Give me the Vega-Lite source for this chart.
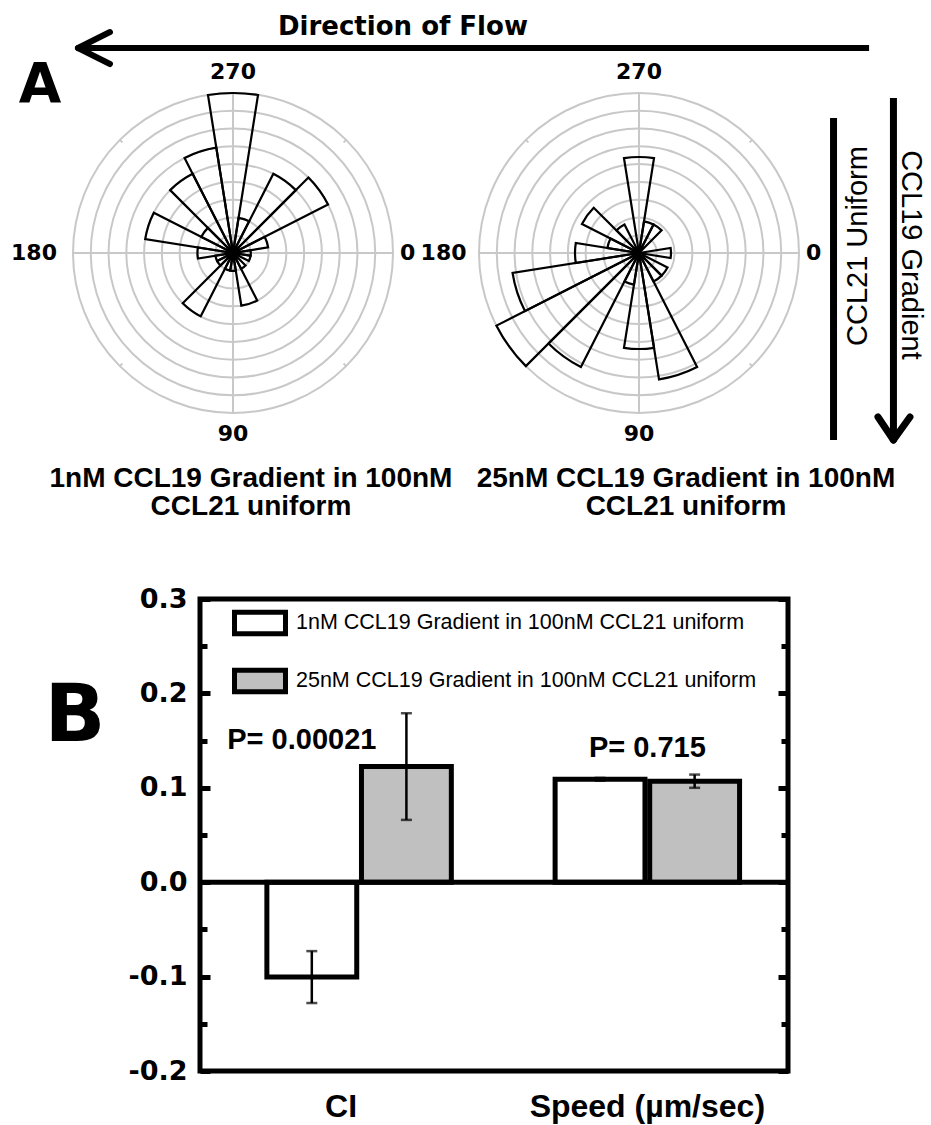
{
  "$schema": "https://vega.github.io/schema/vega-lite/v6.json",
  "background": "white",
  "padding": {"left": 11, "top": 14, "right": 0, "bottom": 0},
  "bounds": "flush",
  "center": true,
  "spacing": 186,
  "resolve": {"legend": {"fill": "independent"}},
  "config": {"view": {"stroke": null}},
  "datasets": {
    "rings": [{"r": 1}, {"r": 2}, {"r": 3}, {"r": 4}, {"r": 5}, {"r": 6}, {"r": 7}, {"r": 8}, {"r": 9}],
    "spokes": [{"angle": 0}, {"angle": 90}, {"angle": 180}, {"angle": 270}],
    "minorTicks": [{"angle": 45}, {"angle": 135}, {"angle": 225}, {"angle": 315}],
    "angleLabels": [{"angle": 270, "label": "270"}, {"angle": 0, "label": "0"}, {"angle": 90, "label": "90"}, {"angle": 180, "label": "180"}],
    "rose1": [
      {"a0": -9, "a1": 9, "n": 1}, {"a0": 9, "a1": 27, "n": 1}, {"a0": 27, "a1": 45, "n": 0}, {"a0": 45, "a1": 63, "n": 1},
      {"a0": 63, "a1": 81, "n": 3}, {"a0": 81, "a1": 99, "n": 1}, {"a0": 99, "a1": 117, "n": 1}, {"a0": 117, "a1": 135, "n": 4},
      {"a0": 135, "a1": 153, "n": 1}, {"a0": 153, "a1": 171, "n": 1}, {"a0": 171, "a1": 189, "n": 2}, {"a0": 189, "a1": 207, "n": 5},
      {"a0": 207, "a1": 225, "n": 2}, {"a0": 225, "a1": 243, "n": 5}, {"a0": 243, "a1": 261, "n": 6}, {"a0": 261, "a1": 279, "n": 9},
      {"a0": 279, "a1": 297, "n": 2}, {"a0": 297, "a1": 315, "n": 5}, {"a0": 315, "a1": 333, "n": 6}, {"a0": 333, "a1": 351, "n": 2}
    ],
    "rose2": [
      {"a0": -9, "a1": 9, "n": 1}, {"a0": 9, "a1": 27, "n": 0}, {"a0": 27, "a1": 45, "n": 1}, {"a0": 45, "a1": 63, "n": 1},
      {"a0": 63, "a1": 81, "n": 4}, {"a0": 81, "a1": 99, "n": 3}, {"a0": 99, "a1": 117, "n": 1}, {"a0": 117, "a1": 135, "n": 4},
      {"a0": 135, "a1": 153, "n": 5}, {"a0": 153, "a1": 171, "n": 4}, {"a0": 171, "a1": 189, "n": 2}, {"a0": 189, "a1": 207, "n": 1},
      {"a0": 207, "a1": 225, "n": 2}, {"a0": 225, "a1": 243, "n": 1}, {"a0": 243, "a1": 261, "n": 0}, {"a0": 261, "a1": 279, "n": 3},
      {"a0": 279, "a1": 297, "n": 1}, {"a0": 297, "a1": 315, "n": 1}, {"a0": 315, "a1": 333, "n": 0}, {"a0": 333, "a1": 351, "n": 0}
    ],
    "bars": [
      {"metric": "CI", "group": "1nM CCL19 Gradient in 100nM CCL21 uniform", "mean": -0.1005, "err": 0.0275},
      {"metric": "CI", "group": "25nM CCL19 Gradient in 100nM CCL21 uniform", "mean": 0.1225, "err": 0.0565},
      {"metric": "Speed (µm/sec)", "group": "1nM CCL19 Gradient in 100nM CCL21 uniform", "mean": 0.109, "err": 0.0015},
      {"metric": "Speed (µm/sec)", "group": "25nM CCL19 Gradient in 100nM CCL21 uniform", "mean": 0.107, "err": 0.007}
    ]
  },
  "vconcat": [
    {
      "width": 842,
      "height": 320,
      "resolve": {"scale": {"radius": "independent"}},
      "layer": [
        {
          "data": {"name": "rings"},
          "mark": {"type": "arc", "filled": false, "stroke": "#c8c8c8", "strokeWidth": 2},
          "encoding": {
            "x": {"datum": 0, "type": "quantitative", "scale": {"domain": [-9, 38.3625], "nice": false, "zero": false}, "axis": null},
            "y": {"datum": 0, "type": "quantitative", "scale": {"domain": [-9, 9], "nice": false, "zero": false}, "axis": null},
            "theta": {"datum": 0, "type": "quantitative", "stack": null, "scale": {"domain": [0, 360], "range": [1.5707963, 7.8539816], "zero": false, "nice": false}},
            "theta2": {"datum": 360},
            "radius": {"field": "r", "type": "quantitative", "stack": null, "scale": {"type": "linear", "domain": [0, 9], "range": [0, 160], "nice": false, "zero": true}}
          }
        },
        {
          "data": {"name": "rings"},
          "mark": {"type": "arc", "filled": false, "stroke": "#c8c8c8", "strokeWidth": 2},
          "encoding": {
            "x": {"datum": 22.8375, "type": "quantitative", "scale": {"domain": [-9, 38.3625], "nice": false, "zero": false}, "axis": null},
            "y": {"datum": 0, "type": "quantitative", "scale": {"domain": [-9, 9], "nice": false, "zero": false}, "axis": null},
            "theta": {"datum": 0, "type": "quantitative", "stack": null, "scale": {"domain": [0, 360], "range": [1.5707963, 7.8539816], "zero": false, "nice": false}},
            "theta2": {"datum": 360},
            "radius": {"field": "r", "type": "quantitative", "stack": null, "scale": {"type": "linear", "domain": [0, 9], "range": [0, 160], "nice": false, "zero": true}}
          }
        },
        {
          "data": {"name": "spokes"},
          "mark": {"type": "arc", "filled": false, "stroke": "#c8c8c8", "strokeWidth": 2},
          "encoding": {
            "x": {"datum": 0, "type": "quantitative", "scale": {"domain": [-9, 38.3625], "nice": false, "zero": false}, "axis": null},
            "y": {"datum": 0, "type": "quantitative", "scale": {"domain": [-9, 9], "nice": false, "zero": false}, "axis": null},
            "theta": {"field": "angle", "type": "quantitative", "stack": null, "scale": {"domain": [0, 360], "range": [1.5707963, 7.8539816], "zero": false, "nice": false}},
            "theta2": {"field": "angle"},
            "radius": {"datum": 9, "type": "quantitative", "stack": null, "scale": {"type": "linear", "domain": [0, 9], "range": [0, 160], "nice": false, "zero": true}}
          }
        },
        {
          "data": {"name": "spokes"},
          "mark": {"type": "arc", "filled": false, "stroke": "#c8c8c8", "strokeWidth": 2},
          "encoding": {
            "x": {"datum": 22.8375, "type": "quantitative", "scale": {"domain": [-9, 38.3625], "nice": false, "zero": false}, "axis": null},
            "y": {"datum": 0, "type": "quantitative", "scale": {"domain": [-9, 9], "nice": false, "zero": false}, "axis": null},
            "theta": {"field": "angle", "type": "quantitative", "stack": null, "scale": {"domain": [0, 360], "range": [1.5707963, 7.8539816], "zero": false, "nice": false}},
            "theta2": {"field": "angle"},
            "radius": {"datum": 9, "type": "quantitative", "stack": null, "scale": {"type": "linear", "domain": [0, 9], "range": [0, 160], "nice": false, "zero": true}}
          }
        },
        {
          "data": {"name": "minorTicks"},
          "mark": {"type": "arc", "filled": false, "stroke": "#c8c8c8", "strokeWidth": 2},
          "encoding": {
            "x": {"datum": 0, "type": "quantitative", "scale": {"domain": [-9, 38.3625], "nice": false, "zero": false}, "axis": null},
            "y": {"datum": 0, "type": "quantitative", "scale": {"domain": [-9, 9], "nice": false, "zero": false}, "axis": null},
            "theta": {"field": "angle", "type": "quantitative", "stack": null, "scale": {"domain": [0, 360], "range": [1.5707963, 7.8539816], "zero": false, "nice": false}},
            "theta2": {"field": "angle"},
            "radius": {"datum": 9, "type": "quantitative", "stack": null, "scale": {"type": "linear", "domain": [0, 9], "range": [0, 160], "nice": false, "zero": true}},
            "radius2": {"datum": 8.8}
          }
        },
        {
          "data": {"name": "minorTicks"},
          "mark": {"type": "arc", "filled": false, "stroke": "#c8c8c8", "strokeWidth": 2},
          "encoding": {
            "x": {"datum": 22.8375, "type": "quantitative", "scale": {"domain": [-9, 38.3625], "nice": false, "zero": false}, "axis": null},
            "y": {"datum": 0, "type": "quantitative", "scale": {"domain": [-9, 9], "nice": false, "zero": false}, "axis": null},
            "theta": {"field": "angle", "type": "quantitative", "stack": null, "scale": {"domain": [0, 360], "range": [1.5707963, 7.8539816], "zero": false, "nice": false}},
            "theta2": {"field": "angle"},
            "radius": {"datum": 9, "type": "quantitative", "stack": null, "scale": {"type": "linear", "domain": [0, 9], "range": [0, 160], "nice": false, "zero": true}},
            "radius2": {"datum": 8.8}
          }
        },
        {
          "data": {"name": "rose1"},
          "mark": {"type": "arc", "filled": false, "stroke": "black", "strokeWidth": 2.2},
          "encoding": {
            "x": {"datum": 0, "type": "quantitative", "scale": {"domain": [-9, 38.3625], "nice": false, "zero": false}, "axis": null},
            "y": {"datum": 0, "type": "quantitative", "scale": {"domain": [-9, 9], "nice": false, "zero": false}, "axis": null},
            "theta": {"field": "a0", "type": "quantitative", "stack": null, "scale": {"domain": [0, 360], "range": [1.5707963, 7.8539816], "zero": false, "nice": false}},
            "theta2": {"field": "a1"},
            "radius": {"field": "n", "type": "quantitative", "stack": null, "scale": {"type": "linear", "domain": [0, 9], "range": [0, 160], "nice": false, "zero": true}}
          }
        },
        {
          "data": {"name": "rose2"},
          "mark": {"type": "arc", "filled": false, "stroke": "black", "strokeWidth": 2.2},
          "encoding": {
            "x": {"datum": 22.8375, "type": "quantitative", "scale": {"domain": [-9, 38.3625], "nice": false, "zero": false}, "axis": null},
            "y": {"datum": 0, "type": "quantitative", "scale": {"domain": [-9, 9], "nice": false, "zero": false}, "axis": null},
            "theta": {"field": "a0", "type": "quantitative", "stack": null, "scale": {"domain": [0, 360], "range": [1.5707963, 7.8539816], "zero": false, "nice": false}},
            "theta2": {"field": "a1"},
            "radius": {"field": "n", "type": "quantitative", "stack": null, "scale": {"type": "linear", "domain": [0, 5], "range": [0, 160], "nice": false, "zero": true}}
          }
        },
        {
          "data": {"name": "angleLabels"},
          "transform": [{"filter": "datum.angle == 90 || datum.angle == 270"}],
          "mark": {"type": "text", "font": "DejaVu Sans", "fontWeight": "bold", "fontSize": 22, "align": "center", "baseline": "middle", "color": "black"},
          "encoding": {
            "x": {"datum": 0, "type": "quantitative", "scale": {"domain": [-9, 38.3625], "nice": false, "zero": false}, "axis": null},
            "y": {"datum": 0, "type": "quantitative", "scale": {"domain": [-9, 9], "nice": false, "zero": false}, "axis": null},
            "theta": {"field": "angle", "type": "quantitative", "stack": null, "scale": {"domain": [0, 360], "range": [1.5707963, 7.8539816], "zero": false, "nice": false}},
            "radius": {"datum": 10.2, "type": "quantitative", "stack": null, "scale": {"type": "linear", "domain": [0, 9], "range": [0, 160], "nice": false, "zero": true}},
            "text": {"field": "label"}
          }
        },
        {
          "data": {"name": "angleLabels"},
          "transform": [{"filter": "datum.angle == 0"}],
          "mark": {"type": "text", "font": "DejaVu Sans", "fontWeight": "bold", "fontSize": 22, "align": "left", "baseline": "middle", "color": "black"},
          "encoding": {
            "x": {"datum": 0, "type": "quantitative", "scale": {"domain": [-9, 38.3625], "nice": false, "zero": false}, "axis": null},
            "y": {"datum": 0, "type": "quantitative", "scale": {"domain": [-9, 9], "nice": false, "zero": false}, "axis": null},
            "theta": {"field": "angle", "type": "quantitative", "stack": null, "scale": {"domain": [0, 360], "range": [1.5707963, 7.8539816], "zero": false, "nice": false}},
            "radius": {"datum": 9.4, "type": "quantitative", "stack": null, "scale": {"type": "linear", "domain": [0, 9], "range": [0, 160], "nice": false, "zero": true}},
            "text": {"field": "label"}
          }
        },
        {
          "data": {"name": "angleLabels"},
          "transform": [{"filter": "datum.angle == 180"}],
          "mark": {"type": "text", "font": "DejaVu Sans", "fontWeight": "bold", "fontSize": 22, "align": "right", "baseline": "middle", "color": "black"},
          "encoding": {
            "x": {"datum": 0, "type": "quantitative", "scale": {"domain": [-9, 38.3625], "nice": false, "zero": false}, "axis": null},
            "y": {"datum": 0, "type": "quantitative", "scale": {"domain": [-9, 9], "nice": false, "zero": false}, "axis": null},
            "theta": {"field": "angle", "type": "quantitative", "stack": null, "scale": {"domain": [0, 360], "range": [1.5707963, 7.8539816], "zero": false, "nice": false}},
            "radius": {"datum": 9.9, "type": "quantitative", "stack": null, "scale": {"type": "linear", "domain": [0, 9], "range": [0, 160], "nice": false, "zero": true}},
            "text": {"field": "label"}
          }
        },
        {
          "data": {"name": "angleLabels"},
          "transform": [{"filter": "datum.angle == 90 || datum.angle == 270"}],
          "mark": {"type": "text", "font": "DejaVu Sans", "fontWeight": "bold", "fontSize": 22, "align": "center", "baseline": "middle", "color": "black"},
          "encoding": {
            "x": {"datum": 22.8375, "type": "quantitative", "scale": {"domain": [-9, 38.3625], "nice": false, "zero": false}, "axis": null},
            "y": {"datum": 0, "type": "quantitative", "scale": {"domain": [-9, 9], "nice": false, "zero": false}, "axis": null},
            "theta": {"field": "angle", "type": "quantitative", "stack": null, "scale": {"domain": [0, 360], "range": [1.5707963, 7.8539816], "zero": false, "nice": false}},
            "radius": {"datum": 10.2, "type": "quantitative", "stack": null, "scale": {"type": "linear", "domain": [0, 9], "range": [0, 160], "nice": false, "zero": true}},
            "text": {"field": "label"}
          }
        },
        {
          "data": {"name": "angleLabels"},
          "transform": [{"filter": "datum.angle == 0"}],
          "mark": {"type": "text", "font": "DejaVu Sans", "fontWeight": "bold", "fontSize": 22, "align": "left", "baseline": "middle", "color": "black"},
          "encoding": {
            "x": {"datum": 22.8375, "type": "quantitative", "scale": {"domain": [-9, 38.3625], "nice": false, "zero": false}, "axis": null},
            "y": {"datum": 0, "type": "quantitative", "scale": {"domain": [-9, 9], "nice": false, "zero": false}, "axis": null},
            "theta": {"field": "angle", "type": "quantitative", "stack": null, "scale": {"domain": [0, 360], "range": [1.5707963, 7.8539816], "zero": false, "nice": false}},
            "radius": {"datum": 9.4, "type": "quantitative", "stack": null, "scale": {"type": "linear", "domain": [0, 9], "range": [0, 160], "nice": false, "zero": true}},
            "text": {"field": "label"}
          }
        },
        {
          "data": {"name": "angleLabels"},
          "transform": [{"filter": "datum.angle == 180"}],
          "mark": {"type": "text", "font": "DejaVu Sans", "fontWeight": "bold", "fontSize": 22, "align": "right", "baseline": "middle", "color": "black"},
          "encoding": {
            "x": {"datum": 22.8375, "type": "quantitative", "scale": {"domain": [-9, 38.3625], "nice": false, "zero": false}, "axis": null},
            "y": {"datum": 0, "type": "quantitative", "scale": {"domain": [-9, 9], "nice": false, "zero": false}, "axis": null},
            "theta": {"field": "angle", "type": "quantitative", "stack": null, "scale": {"domain": [0, 360], "range": [1.5707963, 7.8539816], "zero": false, "nice": false}},
            "radius": {"datum": 9.7, "type": "quantitative", "stack": null, "scale": {"type": "linear", "domain": [0, 9], "range": [0, 160], "nice": false, "zero": true}},
            "text": {"field": "label"}
          }
        },
        {
          "data": {"values": [{}]},
          "mark": {"type": "text", "text": ["1nM CCL19 Gradient in 100nM", "CCL21 uniform"], "font": "Liberation Sans", "fontWeight": "bold", "fontSize": 28, "lineHeight": 28, "color": "black", "align": "center", "baseline": "top"},
          "encoding": {
            "x": {"datum": 1.01, "type": "quantitative", "scale": {"domain": [-9, 38.3625], "nice": false, "zero": false}, "axis": null},
            "y": {"datum": -11.925, "type": "quantitative", "scale": {"domain": [-9, 9], "nice": false, "zero": false}, "axis": null}
          }
        },
        {
          "data": {"values": [{}]},
          "mark": {"type": "text", "text": ["25nM CCL19 Gradient in 100nM", "CCL21 uniform"], "font": "Liberation Sans", "fontWeight": "bold", "fontSize": 28, "lineHeight": 28, "color": "black", "align": "center", "baseline": "top"},
          "encoding": {
            "x": {"datum": 25.48, "type": "quantitative", "scale": {"domain": [-9, 38.3625], "nice": false, "zero": false}, "axis": null},
            "y": {"datum": -11.925, "type": "quantitative", "scale": {"domain": [-9, 9], "nice": false, "zero": false}, "axis": null}
          }
        },
        {
          "data": {"values": [{}]},
          "mark": {"type": "rule", "strokeWidth": 6, "color": "black"},
          "encoding": {
            "x": {"datum": -8.6, "type": "quantitative", "scale": {"domain": [-9, 38.3625], "nice": false, "zero": false}, "axis": null},
            "x2": {"datum": 35.78},
            "y": {"datum": 11.53, "type": "quantitative", "scale": {"domain": [-9, 9], "nice": false, "zero": false}, "axis": null}
          }
        },
        {
          "data": {"values": [{}]},
          "mark": {"type": "rule", "strokeWidth": 6, "color": "black", "strokeCap": "round"},
          "encoding": {
            "x": {"datum": -8.72, "type": "quantitative", "scale": {"domain": [-9, 38.3625], "nice": false, "zero": false}, "axis": null},
            "x2": {"datum": -6.92},
            "y": {"datum": 11.53, "type": "quantitative", "scale": {"domain": [-9, 9], "nice": false, "zero": false}, "axis": null},
            "y2": {"datum": 12.43}
          }
        },
        {
          "data": {"values": [{}]},
          "mark": {"type": "rule", "strokeWidth": 6, "color": "black", "strokeCap": "round"},
          "encoding": {
            "x": {"datum": -8.72, "type": "quantitative", "scale": {"domain": [-9, 38.3625], "nice": false, "zero": false}, "axis": null},
            "x2": {"datum": -6.92},
            "y": {"datum": 11.53, "type": "quantitative", "scale": {"domain": [-9, 9], "nice": false, "zero": false}, "axis": null},
            "y2": {"datum": 10.63}
          }
        },
        {
          "data": {"values": [{}]},
          "mark": {"type": "text", "text": "Direction of Flow", "font": "DejaVu Sans", "fontWeight": "bold", "fontSize": 26, "color": "black", "align": "center", "baseline": "middle"},
          "encoding": {
            "x": {"datum": 9.56, "type": "quantitative", "scale": {"domain": [-9, 38.3625], "nice": false, "zero": false}, "axis": null},
            "y": {"datum": 12.71, "type": "quantitative", "scale": {"domain": [-9, 9], "nice": false, "zero": false}, "axis": null}
          }
        },
        {
          "data": {"values": [{}]},
          "mark": {"type": "text", "text": "A", "font": "DejaVu Sans", "fontWeight": "bold", "fontSize": 55, "color": "black", "align": "center", "baseline": "middle"},
          "encoding": {
            "x": {"datum": -10.86, "type": "quantitative", "scale": {"domain": [-9, 38.3625], "nice": false, "zero": false}, "axis": null},
            "y": {"datum": 9.45, "type": "quantitative", "scale": {"domain": [-9, 9], "nice": false, "zero": false}, "axis": null}
          }
        },
        {
          "data": {"values": [{}]},
          "mark": {"type": "text", "text": "B", "font": "DejaVu Sans", "fontWeight": "bold", "fontSize": 80, "color": "black", "align": "center", "baseline": "middle"},
          "encoding": {
            "x": {"datum": -8.89, "type": "quantitative", "scale": {"domain": [-9, 38.3625], "nice": false, "zero": false}, "axis": null},
            "y": {"datum": -26.1, "type": "quantitative", "scale": {"domain": [-9, 9], "nice": false, "zero": false}, "axis": null}
          }
        },
        {
          "data": {"values": [{}]},
          "mark": {"type": "rule", "strokeWidth": 7, "color": "black"},
          "encoding": {
            "x": {"datum": 33.78, "type": "quantitative", "scale": {"domain": [-9, 38.3625], "nice": false, "zero": false}, "axis": null},
            "y": {"datum": 7.59, "type": "quantitative", "scale": {"domain": [-9, 9], "nice": false, "zero": false}, "axis": null},
            "y2": {"datum": -10.52}
          }
        },
        {
          "data": {"values": [{}]},
          "mark": {"type": "rule", "strokeWidth": 7, "color": "black"},
          "encoding": {
            "x": {"datum": 37.15, "type": "quantitative", "scale": {"domain": [-9, 38.3625], "nice": false, "zero": false}, "axis": null},
            "y": {"datum": 8.72, "type": "quantitative", "scale": {"domain": [-9, 9], "nice": false, "zero": false}, "axis": null},
            "y2": {"datum": -10.35}
          }
        },
        {
          "data": {"values": [{}]},
          "mark": {"type": "rule", "strokeWidth": 7, "color": "black", "strokeCap": "round"},
          "encoding": {
            "x": {"datum": 37.15, "type": "quantitative", "scale": {"domain": [-9, 38.3625], "nice": false, "zero": false}, "axis": null},
            "x2": {"datum": 36.28},
            "y": {"datum": -10.52, "type": "quantitative", "scale": {"domain": [-9, 9], "nice": false, "zero": false}, "axis": null},
            "y2": {"datum": -9.225}
          }
        },
        {
          "data": {"values": [{}]},
          "mark": {"type": "rule", "strokeWidth": 7, "color": "black", "strokeCap": "round"},
          "encoding": {
            "x": {"datum": 37.15, "type": "quantitative", "scale": {"domain": [-9, 38.3625], "nice": false, "zero": false}, "axis": null},
            "x2": {"datum": 38.08},
            "y": {"datum": -10.52, "type": "quantitative", "scale": {"domain": [-9, 9], "nice": false, "zero": false}, "axis": null},
            "y2": {"datum": -9.225}
          }
        },
        {
          "data": {"values": [{}]},
          "mark": {"type": "text", "text": "CCL21 Uniform", "font": "Liberation Sans", "fontSize": 29, "angle": 270, "color": "black", "align": "center", "baseline": "middle"},
          "encoding": {
            "x": {"datum": 35.16, "type": "quantitative", "scale": {"domain": [-9, 38.3625], "nice": false, "zero": false}, "axis": null},
            "y": {"datum": 0.39, "type": "quantitative", "scale": {"domain": [-9, 9], "nice": false, "zero": false}, "axis": null}
          }
        },
        {
          "data": {"values": [{}]},
          "mark": {"type": "text", "text": "CCL19 Gradient", "font": "Liberation Sans", "fontSize": 29, "angle": 90, "color": "black", "align": "center", "baseline": "middle"},
          "encoding": {
            "x": {"datum": 38.14, "type": "quantitative", "scale": {"domain": [-9, 38.3625], "nice": false, "zero": false}, "axis": null},
            "y": {"datum": -0.11, "type": "quantitative", "scale": {"domain": [-9, 9], "nice": false, "zero": false}, "axis": null}
          }
        }
      ]
    },
    {
      "width": 588,
      "height": 472,
      "view": {"stroke": "black", "strokeWidth": 5},
      "data": {"name": "bars"},
      "resolve": {"axis": {"y": "independent"}},
      "layer": [
        {
          "mark": {"type": "bar", "stroke": "black", "strokeWidth": 5},
          "encoding": {
            "x": {"field": "metric", "type": "nominal", "sort": ["CI", "Speed (µm/sec)"], "scale": {"paddingInner": 0.36, "paddingOuter": 0.2, "align": 0.58},
              "axis": {"orient": "bottom", "title": null, "domain": false, "ticks": false, "labelAngle": 0, "labelFont": "Liberation Sans", "labelFontWeight": "bold", "labelFontSize": 32, "labelColor": "black", "labelPadding": 20, "labelLimit": 0,
                "labelOffset": {"condition": {"test": "datum.value == 'CI'", "value": -18}, "value": 0}}},
            "xOffset": {"field": "group", "type": "nominal", "sort": ["1nM CCL19 Gradient in 100nM CCL21 uniform", "25nM CCL19 Gradient in 100nM CCL21 uniform"], "scale": {"paddingInner": 0.05, "paddingOuter": 0}},
            "y": {"field": "mean", "type": "quantitative", "scale": {"domain": [-0.2, 0.3], "nice": false, "zero": false},
              "axis": {"orient": "left", "title": null, "domain": false, "grid": false,
                "values": [-0.2, -0.15, -0.1, -0.05, 0, 0.05, 0.1, 0.15, 0.2, 0.25, 0.3],
                "labelExpr": "abs(datum.value * 10 - round(datum.value * 10)) < 0.001 ? (datum.value < -0.001 ? '-' : '') + format(abs(datum.value), '.1f') : ''",
                "labelFont": "DejaVu Sans", "labelFontWeight": "bold", "labelFontSize": 27, "labelColor": "black", "labelPadding": 23, "labelFlush": false, "labelOverlap": false,
                "ticks": true, "tickColor": "black", "tickWidth": 5,
                "tickSize": {"condition": {"test": "abs(datum.value * 10 - round(datum.value * 10)) < 0.001", "value": -10}, "value": -7}}},
            "fill": {"field": "group", "type": "nominal", "sort": ["1nM CCL19 Gradient in 100nM CCL21 uniform", "25nM CCL19 Gradient in 100nM CCL21 uniform"], "scale": {"range": ["white", "#c0c0c0"]},
              "legend": {"orient": "none", "legendX": 32, "legendY": -4, "title": null, "padding": 0, "symbolType": "M-1,-0.42H1V0.42H-1Z", "symbolSize": 2600, "symbolStrokeColor": "black", "symbolStrokeWidth": 5, "symbolOpacity": 1, "labelFont": "Liberation Sans", "labelFontSize": 21.5, "labelColor": "black", "labelLimit": 0, "labelOffset": 8, "rowPadding": 9}}
          }
        },
        {
          "mark": {"type": "errorbar", "ticks": true, "thickness": 2.5, "size": 11, "color": "black"},
          "encoding": {
            "x": {"field": "metric", "type": "nominal", "sort": ["CI", "Speed (µm/sec)"]},
            "xOffset": {"field": "group", "type": "nominal", "sort": ["1nM CCL19 Gradient in 100nM CCL21 uniform", "25nM CCL19 Gradient in 100nM CCL21 uniform"]},
            "y": {"field": "mean", "type": "quantitative", "axis": null},
            "yError": {"field": "err"}
          }
        },
        {
          "data": {"values": [{}]},
          "mark": {"type": "rule", "strokeWidth": 5, "color": "black"},
          "encoding": {
            "y": {"datum": 0, "type": "quantitative",
              "axis": {"orient": "right", "title": null, "domain": false, "grid": false, "labels": false,
                "values": [-0.2, -0.15, -0.1, -0.05, 0, 0.05, 0.1, 0.15, 0.2, 0.25, 0.3],
                "ticks": true, "tickColor": "black", "tickWidth": 5,
                "tickSize": {"condition": {"test": "abs(datum.value * 10 - round(datum.value * 10)) < 0.001", "value": -10}, "value": -7}}}
          }
        },
        {
          "data": {"values": [{"metric": "CI", "group": "1nM CCL19 Gradient in 100nM CCL21 uniform"}]},
          "mark": {"type": "text", "text": "P= 0.00021", "font": "Liberation Sans", "fontWeight": "bold", "fontSize": 29, "color": "black", "align": "center", "baseline": "middle", "dx": -10},
          "encoding": {
            "x": {"field": "metric", "type": "nominal", "sort": ["CI", "Speed (µm/sec)"]},
            "xOffset": {"field": "group", "type": "nominal", "sort": ["1nM CCL19 Gradient in 100nM CCL21 uniform", "25nM CCL19 Gradient in 100nM CCL21 uniform"]},
            "y": {"datum": 0.151, "type": "quantitative", "axis": null}
          }
        },
        {
          "data": {"values": [{"metric": "Speed (µm/sec)"}]},
          "mark": {"type": "text", "text": "P= 0.715", "font": "Liberation Sans", "fontWeight": "bold", "fontSize": 29, "color": "black", "align": "center", "baseline": "middle"},
          "encoding": {
            "x": {"field": "metric", "type": "nominal", "sort": ["CI", "Speed (µm/sec)"]},
            "y": {"datum": 0.142, "type": "quantitative", "axis": null}
          }
        }
      ]
    }
  ]
}
